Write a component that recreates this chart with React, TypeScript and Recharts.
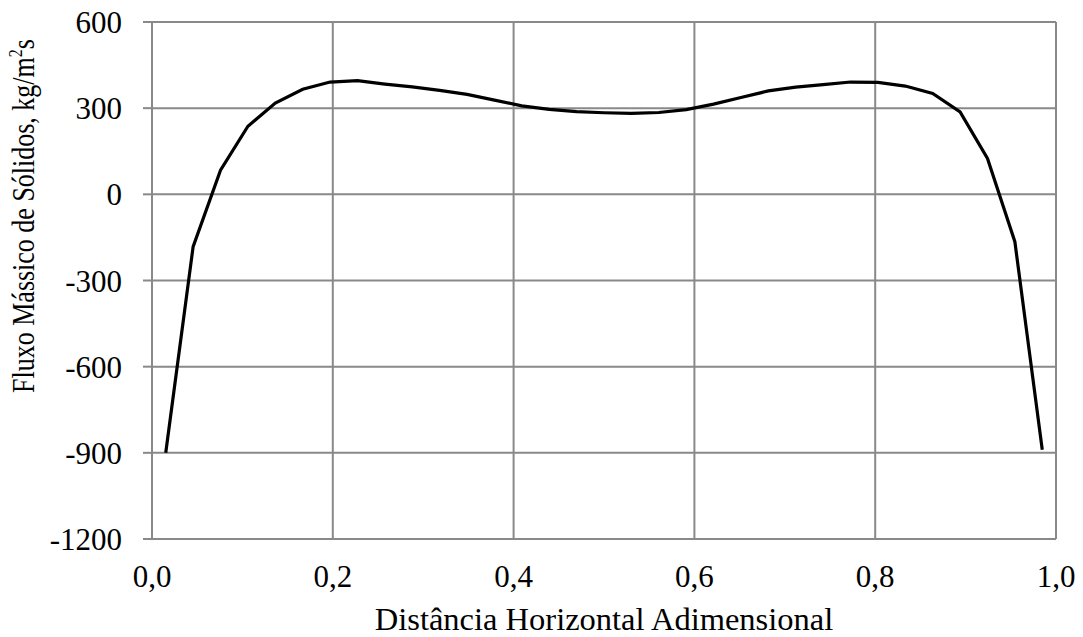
import { LineChart, Line, XAxis, YAxis, CartesianGrid } from 'recharts';

// dimensionless horizontal position across the riser
const distance = [
  0.0152, 0.0455, 0.0758, 0.1061, 0.1364, 0.1667, 0.197, 0.2273, 0.2576, 0.2879,
  0.3182, 0.3485, 0.3788, 0.4091, 0.4394, 0.4697, 0.5, 0.5303, 0.5606, 0.5909,
  0.6212, 0.6515, 0.6818, 0.7121, 0.7424, 0.7727, 0.803, 0.8333, 0.8636, 0.8939,
  0.9242, 0.9545, 0.9848,
];

// solids mass flux, kg/m2s
const solidsFlux = [
  -900, -182, 84, 237, 318, 366, 391, 396, 384, 374,
  362, 348, 328, 308, 296, 288, 284, 282, 285, 295,
  314, 337, 360, 373, 382, 391, 390, 377, 351, 287,
  125, -165, -889,
];

const xTicks = [0, 0.2, 0.4, 0.6, 0.8, 1];
const yTicks = [-1200, -900, -600, -300, 0, 300, 600];

const data = distance.map((x, i) => ({ x, flux: solidsFlux[i] }));

const FONT = '"Liberation Serif", "Times New Roman", serif';
const GRID = '#898989';

// rotated axis title, glyphs a little taller than wide
const YTitle = () => (
  <text
    x={0}
    y={0}
    transform="translate(34 216) rotate(-90) scale(1 1.2)"
    textAnchor="middle"
    fontFamily={FONT}
    fontSize={26}
    fill="#000"
  >
    Fluxo Mássico de Sólidos, kg/m
    <tspan dy={-10} fontSize={16}>2</tspan>
    <tspan dy={10}>s</tspan>
  </text>
);

export default function App() {
  return (
    <div style={{ position: 'absolute', left: 0, top: 0, background: '#fff' }}>
      <LineChart
        width={1083}
        height={637}
        data={data}
        margin={{ top: 22, right: 27, bottom: 0, left: 0 }}
      >
        <CartesianGrid stroke={GRID} strokeWidth={2} />
        <XAxis
          type="number"
          dataKey="x"
          domain={[0, 1]}
          ticks={xTicks}
          tickFormatter={(v: number) => v.toFixed(1).replace('.', ',')}
          height={98}
          tickSize={0}
          tickMargin={26}
          tickLine={false}
          axisLine={{ stroke: GRID, strokeWidth: 2 }}
          tick={{ fill: '#000', fontFamily: FONT, fontSize: 31 }}
          label={{
            value: 'Distância Horizontal Adimensional',
            position: 'insideBottom',
            offset: 7,
            fill: '#000',
            fontFamily: FONT,
            fontSize: 32.5,
          }}
        />
        <YAxis
          type="number"
          domain={[-1200, 600]}
          ticks={yTicks}
          width={152}
          tickSize={9}
          tickMargin={21}
          tickLine={{ stroke: GRID, strokeWidth: 2 }}
          axisLine={{ stroke: GRID, strokeWidth: 2 }}
          tick={{ fill: '#000', fontFamily: FONT, fontSize: 31 }}
          label={<YTitle />}
        />
        <Line
          type="linear"
          dataKey="flux"
          stroke="#000"
          strokeWidth={3.2}
          dot={false}
          isAnimationActive={false}
        />
      </LineChart>
    </div>
  );
}
